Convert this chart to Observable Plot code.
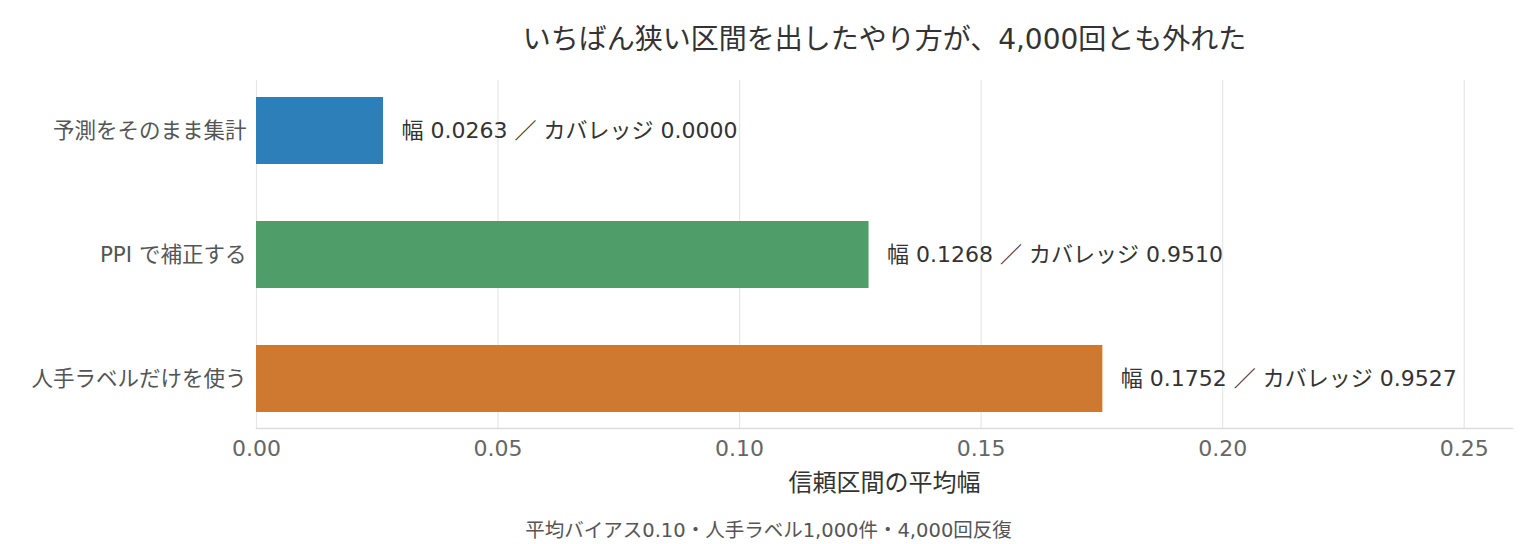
<!DOCTYPE html>
<html><head><meta charset="utf-8">
<script src="https://cdn.jsdelivr.net/npm/d3@7"></script>
<script src="https://cdn.jsdelivr.net/npm/@observablehq/plot@0.6"></script>
<style>
body{margin:0;background:#fff;}
#chart{width:1536px;height:544px;}
</style></head>
<body><div id="chart"></div>
<script>
const methods = ["予測をそのまま集計", "PPI で補正する", "人手ラベルだけを使う"];
const widths = [0.0263, 0.1268, 0.1752];
const coverages = [0.0000, 0.9510, 0.9527];
const colors = ["#2c7fb8", "#4f9e6a", "#cf7830"];
const xTicks = [0, 0.05, 0.10, 0.15, 0.20, 0.25];
const title = "いちばん狭い区間を出したやり方が、4,000回とも外れた";
const xLabel = "信頼区間の平均幅";
const caption = "平均バイアス0.10・人手ラベル1,000件・4,000回反復";

const data = methods.map((m, i) => ({method: m, width: widths[i], coverage: coverages[i], color: colors[i],
  label: `幅 ${widths[i].toFixed(4)} ／ カバレッジ ${coverages[i].toFixed(4)}`}));

const font = "'DejaVu Sans', 'Noto Sans CJK JP', sans-serif";
const chart = Plot.plot({
  width: 1536, height: 544,
  marginTop: 80, marginBottom: 116, marginLeft: 256, marginRight: 24,
  style: {fontFamily: font, background: "#fff"},
  x: {domain: [0, 0.26]},
  y: {domain: methods, paddingInner: 0.46, paddingOuter: 0.13},
  marks: [
    Plot.ruleX(xTicks, {stroke: "#e6e6e6", strokeWidth: 1.2}),
    Plot.barX(data, {y: "method", x: "width", fill: "color"}),
    Plot.text(data, {y: "method", x: "width", text: "label", textAnchor: "start", dx: 18, fontSize: 22, fill: "#333"}),
    Plot.axisY({tickSize: 0, tickPadding: 10, fontSize: 21.5, color: "#555", label: null}),
    Plot.axisX({ticks: xTicks, tickFormat: d3.format(".2f"), tickSize: 0, tickPadding: 12, fontSize: 22, color: "#666",
      label: xLabel, labelAnchor: "center", labelArrow: "none", labelOffset: 62}),
    Plot.frame({anchor: "bottom", stroke: "#dddddd", strokeWidth: 1.5}),
    Plot.text([title], {frameAnchor: "top", lineAnchor: "middle", dy: -40.5, fontSize: 28, fill: "#333"}),
    Plot.text([caption], {frameAnchor: "bottom", lineAnchor: "middle", dx: -116, dy: 102, fontSize: 19.5, fill: "#555"})
  ]
});
document.getElementById("chart").appendChild(chart);
chart.querySelectorAll("g[aria-label='x-axis label'] text").forEach(t => {t.setAttribute("font-size", 24); t.setAttribute("fill", "#333");});
</script></body></html>
